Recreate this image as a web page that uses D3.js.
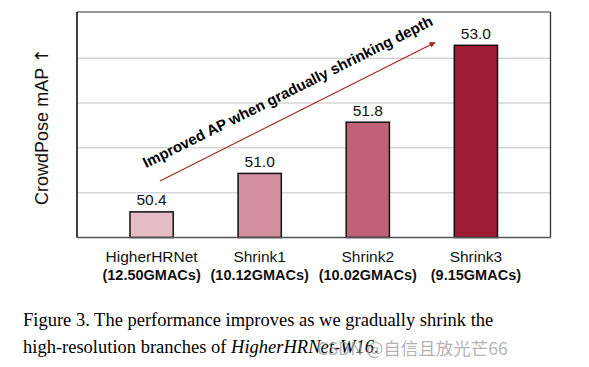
<!DOCTYPE html>
<html><head><meta charset="utf-8">
<script src="https://cdn.jsdelivr.net/npm/d3@7"></script>
<style>body{margin:0;background:#fff}svg{display:block}</style>
</head><body>
<script>
const categories = ["HigherHRNet", "Shrink1", "Shrink2", "Shrink3"];
const macs = ["(12.50GMACs)", "(10.12GMACs)", "(10.02GMACs)", "(9.15GMACs)"];
const values = [50.4, 51.0, 51.8, 53.0];
const valueLabels = ["50.4", "51.0", "51.8", "53.0"];
const gridValues = [50.7, 51.4, 52.1, 52.8];
const yDomain = [50, 53.52];
const colors = ["#e6bcc6", "#d48f9e", "#c06277", "#9e1b34"];
const yTitle = "CrowdPose mAP";
const yArrow = "\u2191";
const annotation = "Improved AP when gradually shrinking depth";
const caption1 = "Figure 3. The performance improves as we gradually shrink the";
const caption2a = "high-resolution branches of ";
const caption2b = "HigherHRNet-W16";
const caption2c = ".";
const watermark = "CSDN @自信且放光芒66";

const W = 589, H = 367;
const svg = d3.select("body").append("svg").attr("width", W).attr("height", H);
const L = 77, R = 550.5, T = 12, B = 237.5;
const x = d3.scaleBand().domain(categories).range([L, R]).paddingInner(0.6).paddingOuter(0.49);
const y = d3.scaleLinear().domain(yDomain).range([B, T]);
const sans = "Liberation Sans, Arial, sans-serif";

// grid
svg.append("g").selectAll("line").data(gridValues).join("line")
  .attr("x1", L).attr("x2", R).attr("y1", d => y(d)).attr("y2", d => y(d))
  .attr("stroke", "#d6d6d6").attr("stroke-width", 1.5);
// frame
svg.append("line").attr("x1", L).attr("x2", R).attr("y1", T).attr("y2", T).attr("stroke", "#777").attr("stroke-width", 1.3);
svg.append("line").attr("x1", R).attr("x2", R).attr("y1", T).attr("y2", B).attr("stroke", "#333").attr("stroke-width", 1.3);

// bars
svg.append("g").selectAll("rect").data(values).join("rect")
  .attr("x", (d, i) => x(categories[i])).attr("width", x.bandwidth())
  .attr("y", d => y(d)).attr("height", d => B - y(d))
  .attr("fill", (d, i) => colors[i]).attr("stroke", "#111").attr("stroke-width", 1.5);

// axes
svg.append("line").attr("x1", L).attr("x2", L).attr("y1", T).attr("y2", B).attr("stroke", "#000").attr("stroke-width", 1.5);
svg.append("line").attr("x1", L).attr("x2", R).attr("y1", B).attr("y2", B).attr("stroke", "#555").attr("stroke-width", 1.5);

// value labels
svg.append("g").selectAll("text").data(values).join("text")
  .attr("x", (d, i) => x(categories[i]) + x.bandwidth() / 2)
  .attr("y", d => y(d) - 6.5)
  .attr("text-anchor", "middle").attr("font-family", sans).attr("font-size", 15.5).attr("fill", "#111")
  .text((d, i) => valueLabels[i]);

// x labels
svg.append("g").selectAll("text").data(categories).join("text")
  .attr("x", d => x(d) + x.bandwidth() / 2).attr("y", 261.5)
  .attr("text-anchor", "middle").attr("font-family", sans).attr("font-size", 15.5).attr("fill", "#111")
  .text(d => d);
svg.append("g").selectAll("text").data(macs).join("text")
  .attr("x", (d, i) => x(categories[i]) + x.bandwidth() / 2).attr("y", 279.5)
  .attr("text-anchor", "middle").attr("font-family", sans).attr("font-weight", "bold").attr("font-size", 14.5).attr("fill", "#111")
  .text(d => d);

// y title
const yt = svg.append("text").attr("transform", "translate(48,126.5) rotate(-90)")
  .attr("text-anchor", "middle").attr("font-family", sans).attr("font-size", 18).attr("fill", "#111");
yt.append("tspan").text(yTitle + " ");
yt.append("tspan").attr("font-family", "DejaVu Sans").attr("font-size", 18).text(yArrow);

// arrow
const defs = svg.append("defs");
defs.append("marker").attr("id", "ah").attr("viewBox", "0 0 10 10").attr("refX", 9).attr("refY", 5)
  .attr("markerWidth", 7).attr("markerHeight", 6).attr("markerUnits", "userSpaceOnUse").attr("orient", "auto")
  .append("path").attr("d", "M0,0 L10,5 L0,10 z").attr("fill", "#a3231f");
svg.append("line").attr("x1", 160).attr("y1", 181).attr("x2", 435).attr("y2", 42.5)
  .attr("stroke", "#a3231f").attr("stroke-width", 1.1).attr("marker-end", "url(#ah)");

// annotation
svg.append("text").attr("transform", "translate(290,96.5) rotate(-26.5)")
  .attr("text-anchor", "middle").attr("font-family", sans).attr("font-weight", "bold").attr("font-size", 15)
  .attr("fill", "#000").text(annotation);

// caption
const serif = "Liberation Serif, Times New Roman, serif";
svg.append("text").attr("x", 23).attr("y", 326).attr("font-family", serif).attr("font-size", 18.5).attr("fill", "#000").text(caption1);
const c2 = svg.append("text").attr("x", 23).attr("y", 353).attr("font-family", serif).attr("font-size", 18.5).attr("fill", "#000");
c2.append("tspan").text(caption2a);
c2.append("tspan").attr("font-style", "italic").text(caption2b);
c2.append("tspan").text(caption2c);

// watermark
svg.append("text").attr("x", 317).attr("y", 355).attr("font-family", "Noto Sans CJK SC, Noto Sans, sans-serif")
  .attr("font-size", 17.5).attr("fill", "#999").attr("fill-opacity", 0.75).text(watermark);
</script>
</body></html>
